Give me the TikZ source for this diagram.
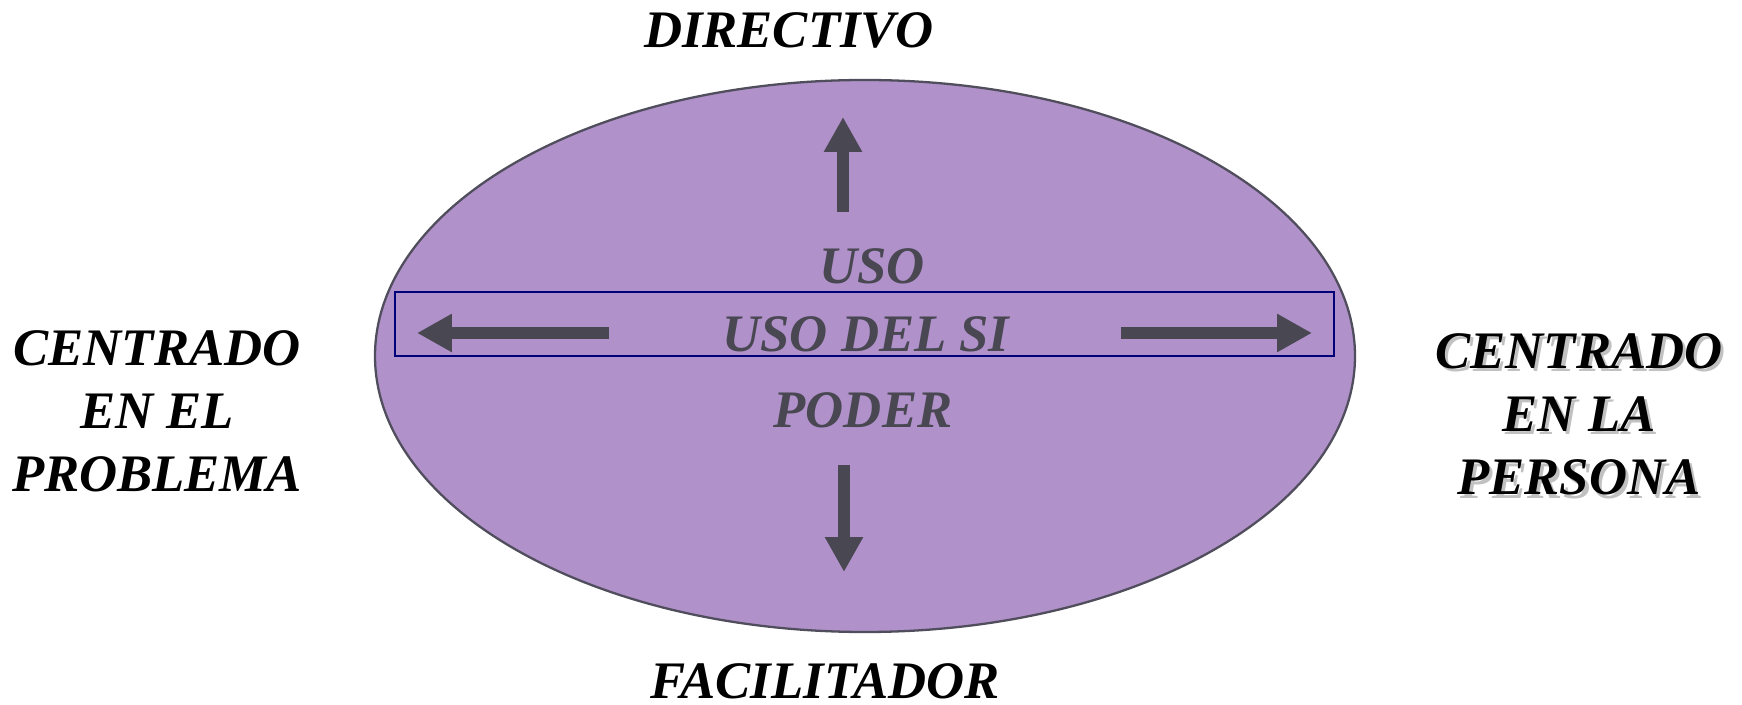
\documentclass[tikz,border=0pt]{standalone}
\usepackage{fontspec}
\setmainfont{Liberation Serif}
\usetikzlibrary{arrows.meta}

\definecolor{ovalfill}{RGB}{176,145,201}
\definecolor{ovaldraw}{RGB}{80,78,92}
\definecolor{arrowgray}{RGB}{72,71,82}
\definecolor{boxblue}{RGB}{0,0,120}

\tikzset{
    side label/.style={font=\fontsize{30}{36}\selectfont\bfseries\itshape,
        align=center, inner sep=0pt},
    mid label/.style={font=\fontsize{30}{36}\selectfont\bfseries\itshape,
        text=arrowgray, inner sep=0pt, anchor=base},
    fat arrow/.style={draw=arrowgray, line width=0.24cm,
        -{Triangle[width=0.72cm,length=0.7cm]}},
}

\begin{document}
\begin{tikzpicture}[x=0.02cm,y=-0.02cm]
    %
    % Independent parameters
    \def\ovalX{865}                                         % oval centre x
    \def\ovalY{356}                                         % oval centre y
    \def\ovalRx{490}                                        % oval x radius
    \def\ovalRy{276}                                        % oval y radius
    \def\armY{333}                                          % height of side arrows
    %
    \useasboundingbox (0,0) rectangle (1742,705);
    %
    % draw oval and box
    \coordinate (centre) at (\ovalX,\ovalY);
    \draw[fill=ovalfill, draw=ovaldraw, line width=1.3pt]
        (centre) ellipse ({\ovalRx*0.02cm} and {\ovalRy*0.02cm});
    \draw[boxblue, line width=1.2pt] (395,292) rectangle (1334,356);
    %
    % middle texts
    \node[mid label] (uso)    at (872,284) {USO};
    \node[mid label] (usosi)  at (866,352) {USO DEL SI};
    \node[mid label] (poder)  at (863,428) {PODER};
    %
    % arrows
    \coordinate (upS)    at (843,212);
    \coordinate (upT)    at (843,117);
    \coordinate (downS)  at (844,465);
    \coordinate (downT)  at (844,572);
    \coordinate (leftS)  at (609,\armY);
    \coordinate (leftT)  at (417,\armY);
    \coordinate (rightS) at (1121,\armY);
    \coordinate (rightT) at (1312,\armY);
    \foreach \s/\t in {upS/upT,downS/downT,leftS/leftT,rightS/rightT}
    {
     \draw[fat arrow] (\s) -- (\t);
    }
    %
    % outer labels (base = last line)
    \node[side label, anchor=base] (directivo) at (789,48)  {DIRECTIVO};
    \node[side label, anchor=base] (facil)     at (825,699) {FACILITADOR};
    \node[side label, anchor=base] (problema)  at (157,492)
        {CENTRADO\\EN EL\\PROBLEMA};
    \node[side label, anchor=base, text=black!35, opacity=0.7]
        at ([xshift=1.8pt,yshift=-1.8pt]1579,495) {CENTRADO\\EN LA\\PERSONA};
    \node[side label, anchor=base] (persona)   at (1579,495)
        {CENTRADO\\EN LA\\PERSONA};
\end{tikzpicture}
\end{document}
